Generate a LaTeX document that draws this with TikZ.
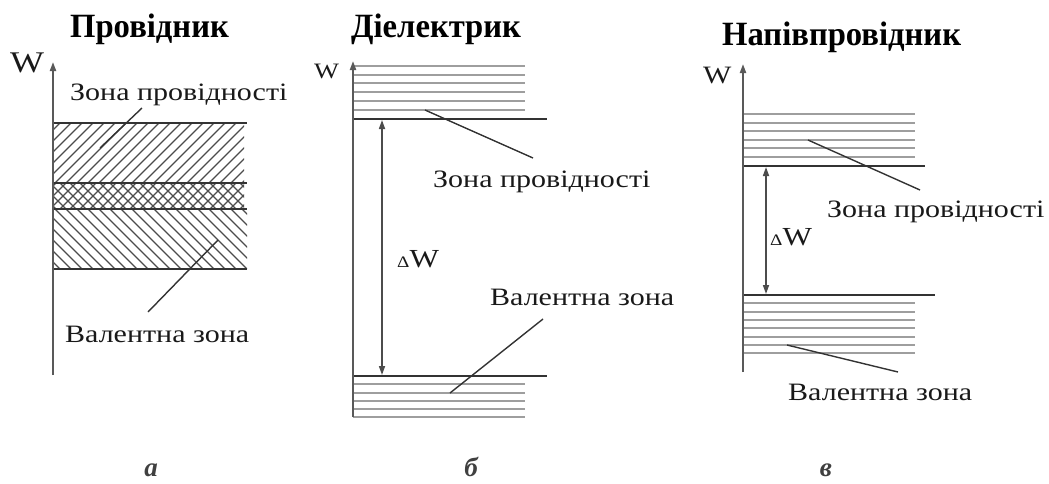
\documentclass[tikz,border=0pt]{standalone}
\usepackage{fontspec}
\setmainfont{Liberation Serif}
\newfontfamily\lblfont[FakeStretch=1.2]{Liberation Serif}
\newfontfamily\ttlfont[FakeStretch=0.96]{Liberation Serif}
\newfontfamily\subfont{Liberation Serif}
\usetikzlibrary{arrows.meta}

\tikzset{
  band/.style={line width=2.4pt, draw=black!80},
  level/.style={line width=1.8pt, draw=black!38},
  hatch/.style={line width=1.3pt, draw=black!70},
  axis/.style={line width=2pt, draw=black!65, -{Triangle[length=9pt,width=6pt]}},
  gap/.style={line width=1.6pt, draw=black!70,
    {Triangle[length=9pt,width=6pt]}-{Triangle[length=9pt,width=6pt]}},
  leader/.style={line width=1.4pt, draw=black!80},
  lbl/.style={inner sep=0pt, anchor=base west, text=black!90,
    font=\lblfont\fontsize{25}{28}\selectfont},
  wlbl/.style={lbl, font=\lblfont\fontsize{#1}{#1}\selectfont},
  dlbl/.style={lbl, font=\lblfont\fontsize{26}{28}\selectfont},
  ttl/.style={inner sep=0pt, anchor=base west,
    font=\ttlfont\bfseries\fontsize{34}{36}\selectfont},
  sub/.style={inner sep=0pt, anchor=base, text=black!75,
    font=\subfont\bfseries\itshape\fontsize{27}{29}\selectfont},
}

\newcommand{\dW}{{\fontsize{16}{16}\selectfont Δ}W}

\begin{document}
\begin{tikzpicture}[x=1pt,y=-1pt]
\useasboundingbox (0,0) rectangle (1049,483);

% ---------- conductor ----------
\node[ttl] (ta) at (70,37) {Провідник};
\node[wlbl=30] (wa) at (10,72) {W};
% hatched conduction band
\begin{scope}
  \clip (53,123) rectangle (244,183);
  \foreach \i in {-8,...,22} \draw[hatch] (\i*11,183) -- ++(60,-60);
\end{scope}
% overlap of the bands, cross-hatched
\begin{scope}
  \clip (53,183) rectangle (244,209);
  \foreach \i in {-4,...,25} {
    \draw[hatch] (\i*10,209) -- ++(26,-26);
    \draw[hatch] (\i*10,183) -- ++(26,26);
  }
\end{scope}
% hatched valence band
\begin{scope}
  \clip (53,209) rectangle (247,269);
  \foreach \i in {-8,...,22} \draw[hatch] (\i*11,209) -- ++(60,60);
\end{scope}
\foreach \y in {123,183,209,269} \draw[band] (53,\y) -- (247,\y);
\draw[axis] (53,375) -- (53,62);
\node[lbl] (ca) at (70,100) {Зона провідності};
\node[lbl] (va) at (65,342) {Валентна зона};
\coordinate (ca1) at (100,148); \coordinate (ca2) at (142,108);
\coordinate (va1) at (148,312); \coordinate (va2) at (218,240);
\draw[leader] (ca1) -- (ca2);
\draw[leader] (va1) -- (va2);
\node[sub] (sa) at (151,476) {а};

% ---------- dielectric ----------
\node[ttl] (tb) at (351,37) {Діелектрик};
\node[wlbl=22] (wb) at (314,78) {W};
\foreach \y in {66,75,83,92,101,110} \draw[level] (353,\y) -- (525,\y);
\foreach \y in {384,393,401,409,417} \draw[level] (353,\y) -- (525,\y);
\draw[band] (353,119) -- (547,119);
\draw[band] (353,376) -- (547,376);
\draw[axis] (353,417) -- (353,61);
\coordinate (gb1) at (382,120); \coordinate (gb2) at (382,375);
\draw[gap] (gb1) -- (gb2);
\node[dlbl] (db) at (397,267) {\dW};
\node[lbl] (cb) at (433,187) {Зона провідності};
\node[lbl] (vb) at (490,305) {Валентна зона};
\coordinate (cb1) at (425,110); \coordinate (cb2) at (533,158);
\coordinate (vb1) at (543,319); \coordinate (vb2) at (450,393);
\draw[leader] (cb1) -- (cb2);
\draw[leader] (vb1) -- (vb2);
\node[sub] (sb) at (471,476) {б};

% ---------- semiconductor ----------
\node[ttl] (tc) at (722,45) {Напівпровідник};
\node[wlbl=25] (wc) at (703,83) {W};
\foreach \y in {114,123,131,140,148,157} \draw[level] (743,\y) -- (915,\y);
\foreach \y in {303,312,320,328,337,345,353} \draw[level] (743,\y) -- (915,\y);
\draw[band] (743,166) -- (925,166);
\draw[band] (743,295) -- (935,295);
\draw[axis] (743,372) -- (743,64);
\coordinate (gc1) at (766,167); \coordinate (gc2) at (766,294);
\draw[gap] (gc1) -- (gc2);
\node[dlbl] (dc) at (770,245) {\dW};
\node[lbl] (cc) at (827,217) {Зона провідності};
\node[lbl] (vc) at (788,400) {Валентна зона};
\coordinate (cc1) at (808,140); \coordinate (cc2) at (920,190);
\coordinate (vc1) at (787,345); \coordinate (vc2) at (898,372);
\draw[leader] (cc1) -- (cc2);
\draw[leader] (vc1) -- (vc2);
\node[sub] (sc) at (826,476) {в};
\end{tikzpicture}
\end{document}
